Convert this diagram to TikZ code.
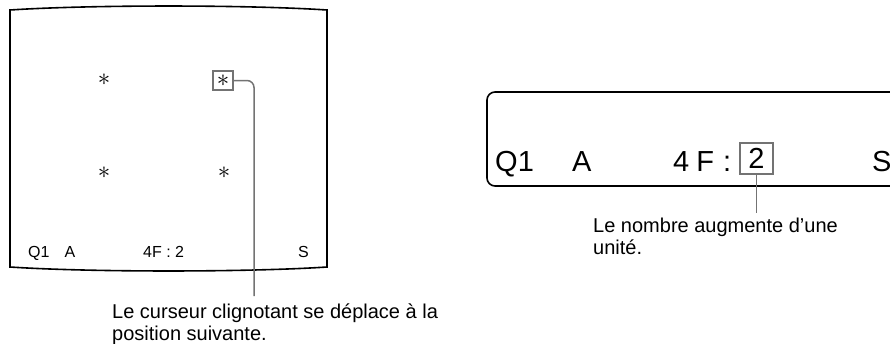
\documentclass[tikz,border=0pt]{standalone}
\usepackage{fontspec}
\setmainfont{Liberation Sans}
\usetikzlibrary{positioning}

\begin{document}
\begin{tikzpicture}[x=1pt,y=-1pt,
  osd/.style={font=\fontsize{16}{16}\selectfont, anchor=base west, inner sep=0pt},
  lcd/.style={font=\fontsize{29}{29}\selectfont, anchor=base west, inner sep=0pt},
  note/.style={font=\fontsize{20}{22}\selectfont, align=left, anchor=base west, inner sep=0pt},
  asterisk/.style={font=\fontsize{26}{26}\selectfont, inner sep=0pt},
  cursor/.style={draw=black!55, line width=1.5pt, minimum width=20pt, minimum height=19pt},
  leader/.style={draw=black!55, line width=1.5pt, rounded corners=7pt}]
  \clip (0,0) rectangle (890,343);
  \useasboundingbox (0,0) rectangle (890,343);
  % screen
  \coordinate (TL) at (10,10); \coordinate (TR) at (327,10);
  \coordinate (BR) at (327,267); \coordinate (BL) at (10,267);
  \draw[line width=1.6pt] (TL) .. controls (90,4.7) and (247,4.7) .. (TR)
    -- (BR) .. controls (247,272.3) and (90,272.3) .. (BL) -- cycle;
  \node[asterisk] (star1) at (104,80) {$\ast$};
  \node[asterisk, cursor] (star2) at (223,80.5) {$\ast$};
  \node[asterisk] (star3) at (104,173) {$\ast$};
  \node[asterisk] (star4) at (224,173) {$\ast$};
  \node[osd] (q1) at (28,257) {Q1};
  \node[osd] (a) at (64.5,257) {A};
  \node[osd] (floor) at (143,257) {4F : 2};
  \node[osd] (s) at (298,257) {S};
  \coordinate (cursorend) at (254,296);
  \draw[leader] (star2.east) -| (cursorend);
  \node[note] (cursornote) at (112,340)
    {Le curseur clignotant se déplace à la\\position suivante.};
  % display
  \draw[line width=1.6pt, rounded corners=8pt] (905,92) -- (487,92) -- (487,186) -- (905,186);
  \node[lcd] (bigq1) at (495,171) {Q1};
  \node[lcd] (biga) at (572,171) {A};
  \node[lcd] (bigfloor) at (673,171) {4\hspace{7pt}F\hspace{9pt}:};
  \node[lcd, anchor=center, cursor, minimum width=33pt, minimum height=31pt] (two) at (756.5,158.5) {2};
  \node[lcd] (bigs) at (872,171) {S};
  \coordinate (countend) at (756.5,213);
  \draw[leader] (two.south) -- (countend);
  \node[note] (countnote) at (593,254)
    {Le nombre augmente d’une\\unité.};
\end{tikzpicture}
\end{document}
